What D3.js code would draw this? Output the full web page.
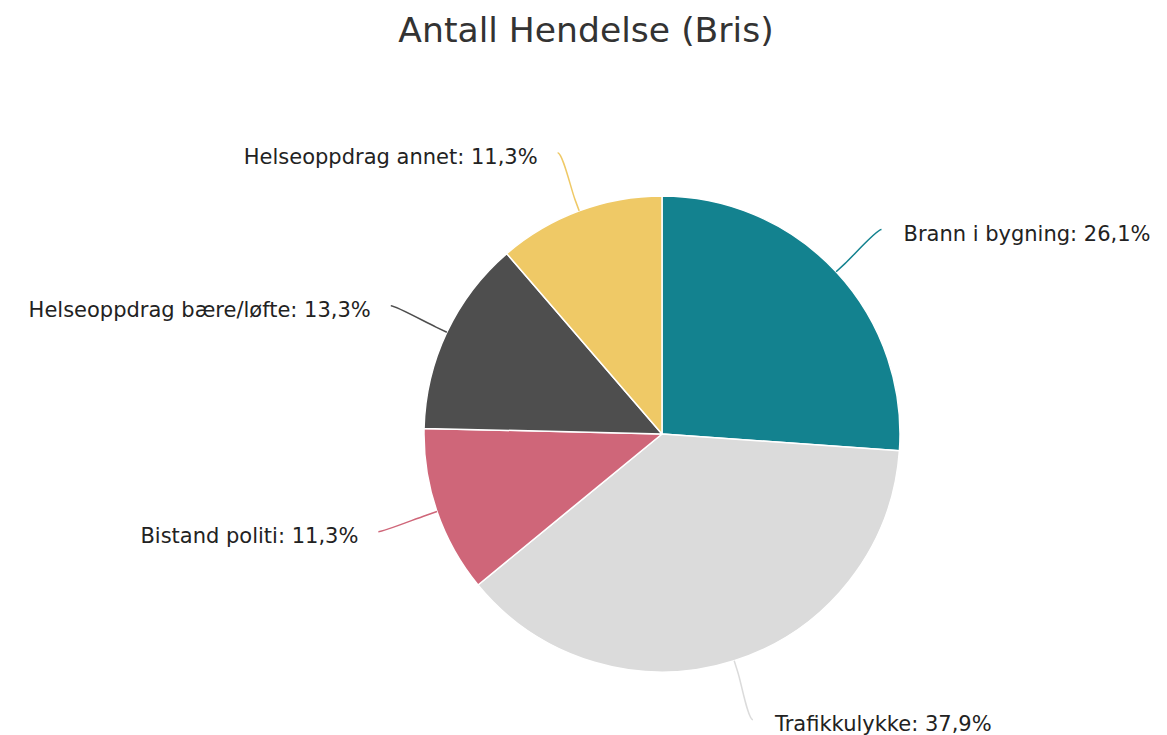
<!DOCTYPE html>
<html>
<head>
<meta charset="utf-8">
<script src="https://cdn.jsdelivr.net/npm/d3@7"></script>
<style>
    body { margin: 0; background: #fff; }
    #chart text { font-family: "DejaVu Sans", Verdana, sans-serif; }
</style>
</head>
<body>
<div id="chart"></div>
<script>
// data
const categories = ["Brann i bygning", "Trafikkulykke", "Bistand politi", "Helseoppdrag bære/løfte", "Helseoppdrag annet"];
const values = [26.1, 37.9, 11.3, 13.3, 11.3];
const colors = ["#13828f", "#dbdbdb", "#cf6679", "#4e4e4e", "#efc966"];
const title = "Antall Hendelse (Bris)";

function drawPie() {
    let win_width = 1167;
    let win_height = 735;

    // pie geometry
    let cx = 662, cy = 434, radius = 238;

    let svg = d3.select("#chart")
        .append("svg")
        .attr("width", win_width)
        .attr("height", win_height);

    svg.append("text")
        .attr("x", 586)
        .attr("y", 42)
        .attr("text-anchor", "middle")
        .attr("fill", "#333333")
        .style("font-size", "34.6px")
        .text(title);

    let data = categories.map(function(c, i) { return {name: c, value: values[i], color: colors[i]}; });

    let pie = d3.pie().sort(null).value(function(d) { return d.value; });
    let arcs = pie(data);
    let arc = d3.arc().innerRadius(0).outerRadius(radius);

    let g = svg.append("g")
        .attr("transform", "translate(" + cx + "," + cy + ")");

    g.selectAll(".slice")
        .data(arcs)
        .join("path")
        .attr("class", "slice")
        .attr("d", arc)
        .attr("fill", function(d) { return d.data.color; })
        .attr("stroke", "#ffffff")
        .attr("stroke-width", 1.5)
        .attr("stroke-linejoin", "round");

    // polar helper, angle 0 = 12 o'clock, clockwise
    function polar(a, r) { return [Math.sin(a) * r, -Math.cos(a) * r]; }

    let labelR = radius + 62;

    arcs.forEach(function(d) {
        let mid = (d.startAngle + d.endAngle) / 2;
        let right = Math.sin(mid) >= 0;
        let end = polar(mid, labelR);
        let brk = polar(mid, radius + 12);
        let touch = polar(mid, radius);

        let path = d3.path();
        path.moveTo(end[0], end[1]);
        path.bezierCurveTo(end[0] + (right ? -5 : 5), end[1],
            2 * brk[0] - touch[0], 2 * brk[1] - touch[1],
            brk[0], brk[1]);
        path.lineTo(touch[0], touch[1]);

        g.append("path")
            .attr("d", path.toString())
            .attr("fill", "none")
            .attr("stroke", d.data.color)
            .attr("stroke-width", 1.5);

        g.append("text")
            .attr("x", end[0] + (right ? 22 : -20))
            .attr("y", end[1] + 11)
            .attr("text-anchor", right ? "start" : "end")
            .attr("fill", "#222222")
            .style("font-size", "21px")
            .text(d.data.name + ": " + String(d.data.value).replace(".", ",") + "%");
    });
}

drawPie();
</script>
</body>
</html>
